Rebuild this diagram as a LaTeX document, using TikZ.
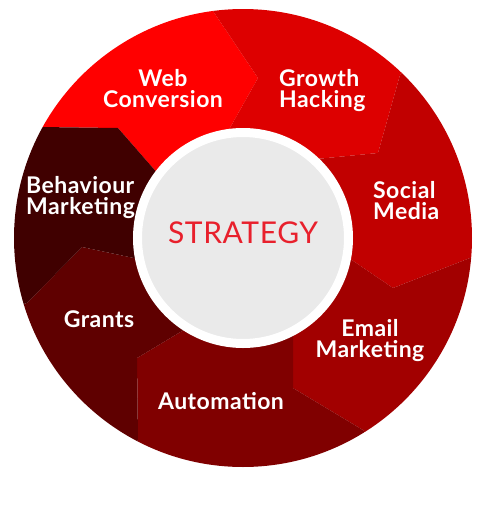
\documentclass[tikz,border=0pt]{standalone}
\usepackage{fontspec}
\setmainfont{Lato}
\usetikzlibrary{calc}

\definecolor{webred}{HTML}{FF0000}
\definecolor{growthred}{HTML}{DD0000}
\definecolor{socialred}{HTML}{C10000}
\definecolor{emailred}{HTML}{A20000}
\definecolor{autored}{HTML}{800000}
\definecolor{grantsred}{HTML}{5F0000}
\definecolor{behavred}{HTML}{400000}
\definecolor{coregrey}{HTML}{EAEAEA}
\definecolor{stratred}{HTML}{E8202C}

\begin{document}
\begin{tikzpicture}[x=1pt, y=-1pt,
		lbl/.style={text=white, font=\bfseries\fontsize{23}{21}\selectfont\addfontfeature{LetterSpace=2}, align=center, inner sep=0pt},
		core/.style={circle, fill=coregrey, draw=white, line width=9pt, minimum size=211pt, inner sep=0pt}
	]
	\useasboundingbox (0,0) rectangle (480,507);

	\coordinate (c) at (243,238);
	% borders between the pieces: inner, corner, outer
	\coordinate (b1i) at (222,142); \coordinate (b1k) at (258,78);  \coordinate (b1o) at (213,11);
	\coordinate (b2i) at (306,160); \coordinate (b2k) at (378,153); \coordinate (b2o) at (400,75);
	\coordinate (b3i) at (340,252); \coordinate (b3k) at (393,288); \coordinate (b3o) at (470,258);
	\coordinate (b4i) at (293,325); \coordinate (b4k) at (293,388); \coordinate (b4o) at (363,430);
	\coordinate (b5i) at (197,322); \coordinate (b5k) at (137,358); \coordinate (b5o) at (138,440);
	\coordinate (b6i) at (148,261); \coordinate (b6k) at (82,247);  \coordinate (b6o) at (27,303);
	\coordinate (b7i) at (166,183); \coordinate (b7k) at (118,128); \coordinate (b7o) at (40,127);

	\begin{scope}
		\clip (c) circle[radius=229];
		\foreach \a/\b/\col in {7/1/webred, 1/2/growthred, 2/3/socialred, 3/4/emailred,
				4/5/autored, 5/6/grantsred, 6/7/behavred}
			\fill[\col] (c) -- (b\a i) -- (b\a k) -- (b\a o) -- ($(c)!1.4!(b\a o)$)
				-- ($(c)!1.4!(b\b o)$) -- (b\b o) -- (b\b k) -- (b\b i) -- cycle;
	\end{scope}

	\node[core] (hub) at (c) {};
	\node[text=stratred, font=\fontsize{30}{30}\selectfont\addfontfeature{LetterSpace=2}, inner sep=0pt] (strategy) at (243,232.5) {STRATEGY};

	\node[lbl] (web) at (163,89) {Web\\Conversion};
	\node[lbl, anchor=west, align=left] (growth) at (279,91) {Growth\\Hacking};
	\node[lbl, anchor=west, align=left] (social) at (373,201) {Social\\Media};
	\node[lbl] (email) at (370,341) {Email\\Marketing};
	\node[lbl] (automation) at (221,401) {Automation};
	\node[lbl] (grants) at (99,319) {Grants};
	\node[lbl, anchor=west, align=left] (behaviour) at (26,198) {Behaviour\\Marketing};
\end{tikzpicture}
\end{document}
